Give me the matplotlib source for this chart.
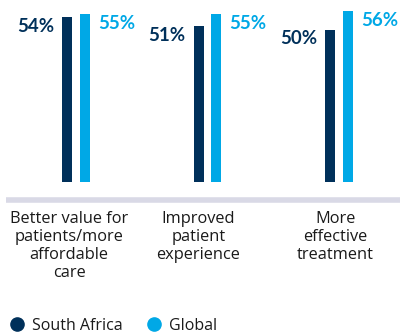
import matplotlib.pyplot as plt
from matplotlib.lines import Line2D
import numpy as np

categories = ['Better value for\npatients/more\naffordable\ncare',
              'Improved\npatient\nexperience',
              'More\neffective\ntreatment']
south_africa = [54, 51, 50]
global_vals = [55, 55, 56]
series_names = ['South Africa', 'Global']

NAVY = '#00305A'
BLUE = '#00A8E6'
TEXT = '#1A1A1A'

plt.rcParams['font.family'] = ['Lato', 'DejaVu Sans']

W, H = 400, 335
fig = plt.figure(figsize=(4, 3.35), dpi=100)

# axes placed in pixel terms: zero line at y=182 px, ~3.05 px per percent
base_px = 182
ax = fig.add_axes([0, (H - base_px) / H, 1, base_px / H])
spacing = 131.5
ax.set_xlim(-76 / spacing, (W - 76) / spacing)
ax.set_ylim(0, base_px / 3.05)
ax.axis('off')

x = np.arange(len(categories))
bw = 10 / spacing
off = 9 / spacing
ax.bar(x - off, south_africa, width=bw, color=NAVY)
ax.bar(x + off, global_vals, width=bw, color=BLUE)

for i in range(len(categories)):
    ax.annotate(f'{south_africa[i]}%', (x[i] - off - bw / 2, south_africa[i]),
                xytext=(-8, -9), textcoords='offset pixels', ha='right', va='center',
                fontsize=13.5, fontweight='bold', color=NAVY)
    ax.annotate(f'{global_vals[i]}%', (x[i] + off + bw / 2, global_vals[i]),
                xytext=(8, -9), textcoords='offset pixels', ha='left', va='center',
                fontsize=13.5, fontweight='bold', color=BLUE)

# grey baseline below the bars
fig.add_artist(Line2D([6 / W, 1], [(H - 199.5) / H] * 2, color='#D9D9E6', lw=4,
                      solid_capstyle='butt', zorder=5))

label_x = [69, 198.5, 335.5]
for lx, cat in zip(label_x, categories):
    fig.text(lx / W, (H - 211) / H, cat, ha='center', va='top', fontsize=11.8,
             color=TEXT, linespacing=1.17, family=['Open Sans', 'DejaVu Sans'])

handles = [Line2D([], [], marker='o', ls='', color=NAVY, markersize=9.5),
           Line2D([], [], marker='o', ls='', color=BLUE, markersize=9.5)]
fig.legend(handles, series_names, loc='lower left', bbox_to_anchor=(0.005, -0.016), ncol=2,
           frameon=False, handletextpad=0.4, columnspacing=1.4,
           borderaxespad=0, handlelength=1.1, labelcolor=TEXT,
           prop={'family': ['Open Sans', 'DejaVu Sans'], 'size': 11.5})

fig.savefig('out.png', dpi=100)
